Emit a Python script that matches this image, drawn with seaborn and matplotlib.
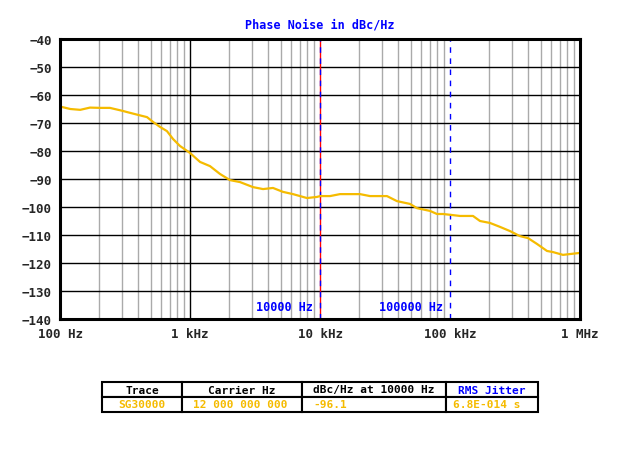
import numpy as np
import pandas as pd
import matplotlib
matplotlib.use("Agg")
import matplotlib.pyplot as plt
import seaborn as sns

# phase noise trace
freq_hz = [100, 104, 120, 143, 170, 203, 242, 305, 328, 398, 467, 519, 588, 665,
           740, 837, 1000, 1194, 1425, 1701, 2031, 2424, 3054, 3646, 4350, 5192,
           6197, 7943, 9480, 10000, 11940, 14250, 17950, 20310, 24240, 32740,
           39080, 49200, 55700, 70170, 79430, 88340, 105400, 119400, 150300,
           170100, 203100, 242400, 289400, 345400, 398100, 467100, 557300,
           619700, 739900, 837400, 1000000]
noise_dbc = [-64.4, -64.3, -65.0, -65.3, -64.5, -64.6, -64.6, -65.7, -66.1, -67.1,
             -67.9, -69.6, -71.4, -72.9, -75.7, -78.2, -80.7, -83.9, -85.4, -88.2,
             -90.4, -91.1, -92.9, -93.6, -93.2, -94.6, -95.4, -96.8, -96.4, -96.1,
             -96.1, -95.4, -95.4, -95.4, -96.1, -96.1, -97.9, -98.9, -100.4,
             -101.4, -102.5, -102.5, -102.9, -103.2, -103.2, -105.0, -105.7,
             -107.1, -108.6, -110.4, -111.1, -113.2, -115.7, -116.1, -117.1,
             -116.8, -116.4]

x_ticks = [100, 1000, 10000, 100000, 1000000]
x_labels = ["100 Hz", "1 kHz", "10 kHz", "100 kHz", "1 MHz"]
y_ticks = list(range(-140, -39, 10))

markers = [10000, 100000]
marker_labels = ["10000 Hz", "100000 Hz"]

table_header = ["Trace", "Carrier Hz", "dBc/Hz at 10000 Hz", "RMS Jitter"]
table_values = ["SG30000", "12 000 000 000", "-96.1", "6.8E-014 s"]

df = pd.DataFrame({"freq": freq_hz, "dbc": noise_dbc})

sns.set_style("white")
plt.rcParams["font.family"] = ["DejaVu Sans Mono", "DejaVu Sans"]
plt.rcParams["font.weight"] = "bold"

gold = "#f5bb00"
blue = "#0000ff"

fig = plt.figure(figsize=(6.4, 4.6), dpi=100)
ax = fig.add_axes([60/640, 140/460, 520/640, 280/460])

sns.lineplot(data=df, x="freq", y="dbc", ax=ax, color=gold, lw=1.6)
ax.set_xscale("log")
ax.set_xlim(100, 1e6)
ax.set_ylim(-140, -40)

# grid
for f in range(3, 7):
    for m in range(2, 10):
        ax.axvline(m * 10**(f - 1), color="#aaaaaa", lw=1, zorder=0)
ax.axvline(1000, color="black", lw=1, zorder=0.5)
for y in y_ticks[1:-1]:
    ax.axhline(y, color="black", lw=1, zorder=0.5)

# marker lines (they take the place of the decade grid lines)
ax.axvline(markers[0], color="red", lw=1, zorder=1)
ax.axvline(markers[0], color=blue, lw=1, ls=(0, (4, 4)), zorder=1.1)
ax.axvline(markers[1], color=blue, lw=1, ls=(0, (4, 4)), zorder=1.1)
for m, lab in zip(markers, marker_labels):
    ax.text(m, -135.5, lab + " ", color=blue, fontsize=8.5, fontweight="bold",
            ha="right", va="center")

ax.set_xticks(x_ticks)
ax.set_xticklabels(x_labels)
ax.xaxis.set_minor_locator(matplotlib.ticker.NullLocator())
ax.set_yticks(y_ticks)
ax.tick_params(length=0, labelsize=9, pad=6)
for t in ax.get_xticklabels() + ax.get_yticklabels():
    t.set_fontweight("bold")
ax.set_xlabel("")
ax.set_ylabel("")
for s in ax.spines.values():
    s.set_color("black")
    s.set_linewidth(2.2)

fig.text(320/640, 1 - 25/460, "Phase Noise in dBc/Hz", color=blue,
         fontsize=8.5, fontweight="bold", ha="center", va="center")

# summary table
tax = fig.add_axes([102/640, 47/460, 436/640, 30/460])
tax.axis("off")
tbl = tax.table(cellText=[table_header, table_values],
                colWidths=[80, 120, 144, 92], bbox=[0, 0, 1, 1])
tbl.auto_set_font_size(False)
for (r, c), cell in tbl.get_celld().items():
    cell.set_linewidth(1.5)
    cell.set_edgecolor("black")
    txt = cell.get_text()
    txt.set_fontsize(8)
    txt.set_fontweight("bold")
    if r == 0:
        txt.set_color(blue if c == 3 else "black")
        cell._loc = "center"
        txt.set_horizontalalignment("center")
    else:
        txt.set_color(gold)
        if c == 0:
            cell._loc = "center"
            txt.set_horizontalalignment("center")
        else:
            cell._loc = "left"
            txt.set_horizontalalignment("left")
            cell.PAD = 0.09 if c == 1 else 0.08

fig.savefig("out.png", dpi=100)
